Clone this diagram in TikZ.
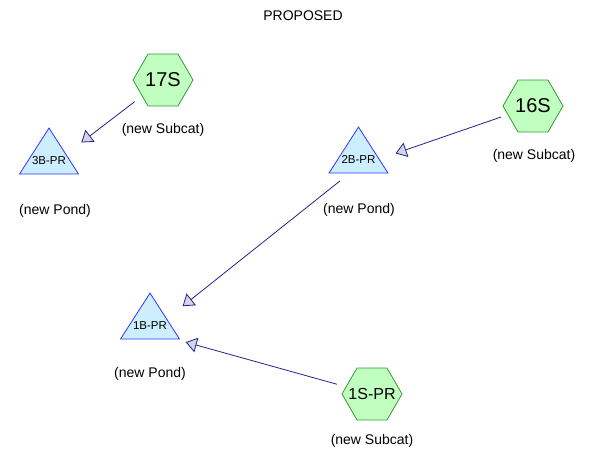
\documentclass[tikz,border=0pt]{standalone}
\usepackage{fontspec}
\setmainfont{Liberation Sans}
\usetikzlibrary{shapes.geometric,arrows.meta}
\definecolor{subcatfill}{HTML}{C0FFC0}
\definecolor{subcatline}{HTML}{339933}
\definecolor{pondfill}{HTML}{CCEEFF}
\definecolor{pondline}{HTML}{3333FF}
\definecolor{linkline}{HTML}{22228C}
\definecolor{tipfill}{HTML}{D4D4E4}
\tikzstyle{subcat}=[regular polygon,regular polygon sides=6,minimum size=60pt,inner sep=0pt,
  draw=subcatline,fill=subcatfill,line width=0.8pt,font=\fontsize{20}{20}\selectfont]
\tikzstyle{pond}=[isosceles triangle,shape border rotate=90,isosceles triangle stretches,
  minimum width=59pt,minimum height=46pt,inner sep=0pt,anchor=apex,
  draw=pondline,fill=pondfill,line width=0.8pt,font=\fontsize{11.5}{11.5}\selectfont]
\tikzstyle{tag}=[font=\fontsize{14}{14}\selectfont]
\tikzstyle{link}=[draw=linkline,line width=0.8pt,
  -{Triangle[length=11pt,width=15pt,fill=tipfill]}]
% keeps the text from growing the hexagon
\newcommand{\hexlabel}[1]{\makebox[0pt]{#1}}
\newcommand{\pondlabel}[1]{\raisebox{3pt}[0pt][0pt]{#1}}

\begin{document}
\begin{tikzpicture}[x=1pt,y=-1pt]
      \useasboundingbox (0,0) rectangle (589,458);
      \node[tag] (title) at (303,16) {PROPOSED};
      % subcatchments
      \node[subcat] (17S) at (163,80) {17S};
      \node[subcat] (16S) at (533,106) {16S};
      \node[subcat,font=\fontsize{16}{16}\selectfont] (1S-PR) at (372,394) {\hexlabel{1S-PR}};
      \node[tag] (17S-tag) at (163,130) {(new Subcat)};
      \node[tag] (16S-tag) at (534,156) {(new Subcat)};
      \node[tag] (1S-PR-tag) at (372,441) {(new Subcat)};
      % ponds
      \node[pond] (3B-PR) at (49,127) {\pondlabel{3B-PR}};
      \node[pond] (2B-PR) at (358.5,126) {\pondlabel{2B-PR}};
      \node[pond] (1B-PR) at (150,292) {\pondlabel{1B-PR}};
      \node[tag] (3B-PR-tag) at (55,211) {(new Pond)};
      \node[tag] (2B-PR-tag) at (359,210) {(new Pond)};
      \node[tag] (1B-PR-tag) at (150,374) {(new Pond)};
      % routing
      \draw[link,shorten <=9pt,shorten >=19pt] (17S) -- (3B-PR);
      \draw[link,shorten <=7pt,shorten >=17pt] (16S) -- (2B-PR);
      \draw[link,shorten <=12pt,shorten >=20pt] (2B-PR) -- (1B-PR);
      \draw[link,shorten <=9pt,shorten >=10pt] (1S-PR) -- (1B-PR);
    \end{tikzpicture}
\end{document}
